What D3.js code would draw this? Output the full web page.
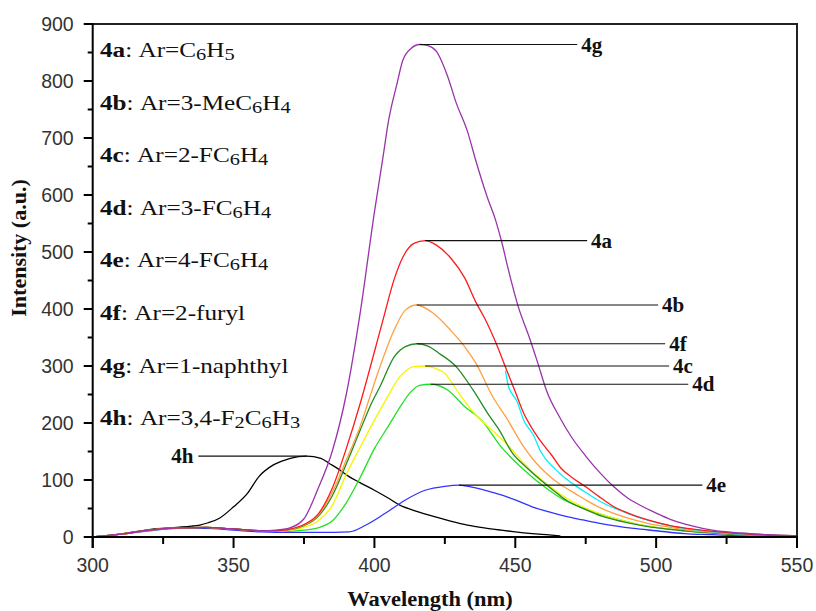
<!DOCTYPE html>
<html><head><meta charset="utf-8">
<script src="https://cdn.jsdelivr.net/npm/d3@7"></script>
<style>body{margin:0;background:#fff}svg{display:block}</style>
</head><body>
<svg id="c" width="816" height="611"></svg>
<script>
// ---- data ----
const xTicks = [300, 350, 400, 450, 500, 550];
const yTicks = [0, 100, 200, 300, 400, 500, 600, 700, 800, 900];

const wl4g = [300,310,320,330,340,350,360,365,370,375,380,385,390,395,400,403,405,408,410,413,416,419,422,426,429,433,436,440,443,445,448,451,455,458,461,466,470,475,480,485,490,495,500,505,510,515,520,530,540,550];
const in4g = [0,5,12,16,17,14,11,12,16,32,85,150,250,395,570,665,730,795,835,857,864,862,852,808,762,712,660,597,556,521,460,405,350,305,258,208,175,142,113,88,68,54,42,31,23,17,12,7,4,2];

const wl4a = [300,310,320,330,340,350,360,365,370,375,380,385,390,395,400,403,407,410,414,418,422,427,432,436,439,443,447,450,453,456,459,463,466,470,475,480,485,490,497,505,511,520,530,540,550];
const in4a = [0,5,12,16,17,14,11,11,14,22,40,85,155,235,325,380,452,490,515,520,512,490,455,412,385,342,292,255,217,190,168,143,122,105,88,70,53,42,30,20,15,10,6,3,2];

const wl4b = [300,310,320,330,340,350,360,365,370,375,380,385,390,395,398,402,407,411,415,421,427,432,436,442,447,453,457,461,466,471,476,482,490,497,505,510,520,530,540,550];
const in4b = [0,5,12,16,17,14,11,11,13,21,38,78,135,195,240,299,363,398,407,392,363,334,305,246,208,158,132,112,92,77,62,47,33,24,17,13,8,5,3,2];

const wl4f = [300,310,320,330,340,350,360,365,370,375,380,385,390,395,399,402,407,411,415,419,423,429,435,441,444,449,454,459,464,468,475,481,488,495,502,510,520,530,540,550];
const in4f = [0,5,12,16,17,14,11,11,13,20,36,72,128,188,235,264,316,334,339,335,322,299,258,211,190,147,122,100,80,65,48,36,27,20,15,11,7,4,3,2];

const wl4c = [300,310,320,330,340,350,360,365,370,375,380,385,390,395,400,404,409,414,418,421,425,430,436,443,448,452,456,461,467,473,479,485,492,500,508,515,525,535,550];
const in4c = [0,5,12,16,17,14,11,10,12,17,28,55,110,158,205,240,281,299,300,297,287,252,214,182,158,135,115,94,72,55,43,33,24,17,12,9,6,4,2];

const wl4d = [300,310,320,330,340,350,360,365,370,375,380,385,390,395,400,405,410,413,416,420,426,432,438,445,453,462,467,473,479,485,492,500,508,515,525,535,550];
const in4d = [0,5,12,16,17,14,11,10,10,12,16,28,60,105,155,195,235,255,266,268,258,229,205,158,118,82,66,53,42,33,24,17,12,9,6,4,2];

const wl4e = [300,310,320,330,340,350,360,370,380,391,397,404,411,418,425,430,435,440,445,450,456,462,468,474,480,486,492,500,510,520,530,540,550];
const in4e = [0,5,11,15,15,12,9,8,8,9,21,42,65,82,89,91,87,81,74,65,53,44,36,30,24,19,15,11,6,4,2,1,1];

const wl4h = [300,310,320,330,335,338,341,345,350,355,359,364,369,373,376,381,384,387,391,395,400,405,409,415,421,427,433,439,445,450,456,461,466];
const in4h = [0,5,13,17,19,21,25,33,53,77,106,126,136,141,142,138,129,120,106,95,82,68,56,45,36,28,21,16,12,9,6,4,2];

const wlCy = [446.5,447.6,450.6,453,456.5,459,464,468,472,476,481,487,494,502,510,520,530,540,550];
const inCy = [292,264,238,205,178,150,120,102,88,75,60,47,34,23,15,9,5,3,2];

const legendIds = ["4a","4b","4c","4d","4e","4f","4g","4h"];
const legendTexts = ["Ar=C_6H_5","Ar=3-MeC_6H_4","Ar=2-FC_6H_4","Ar=3-FC_6H_4","Ar=4-FC_6H_4","Ar=2-furyl","Ar=1-naphthyl","Ar=3,4-F_2C_6H_3"];

// annotation: label id and wavelength where the leader line ends
const annoIds = ["4g","4a","4b","4f","4c","4d","4e","4h"];
const annoEndWl = [472, 475.5, 500.7, 503.2, 504.6, 511.4, 516.4, 337.5];

// ---- layout ----
const svg = d3.select("#c");
const L = 92.7, R = 797, T = 24, B = 537;
const x = d3.scaleLinear().domain([300, 550]).range([L, R]);
const y = d3.scaleLinear().domain([0, 900]).range([B, T]);
const SERIF = "Liberation Serif, Times New Roman, serif";
const SANS = "Liberation Sans, Arial, sans-serif";

const series = [
  {id:"4h", wl:wl4h, v:in4h, c:"#000000"},
  {id:"4e", wl:wl4e, v:in4e, c:"#3333ff"},
  {id:"4d", wl:wl4d, v:in4d, c:"#22e022"},
  {id:"4c", wl:wl4c, v:in4c, c:"#f5f500"},
  {id:"4f", wl:wl4f, v:in4f, c:"#228b22"},
  {id:"4b", wl:wl4b, v:in4b, c:"#ffa040"},
  {id:"cy", wl:wlCy, v:inCy, c:"#00f0ff"},
  {id:"4a", wl:wl4a, v:in4a, c:"#ff1a1a"},
  {id:"4g", wl:wl4g, v:in4g, c:"#9933aa"}
];

svg.append("clipPath").attr("id","clip").append("rect")
  .attr("x", L).attr("y", T).attr("width", R-L).attr("height", B-T);

const line = d3.line().x(d => x(d[0])).y(d => y(d[1])).curve(d3.curveMonotoneX);
const gLines = svg.append("g").attr("clip-path","url(#clip)");
series.forEach(s => {
  gLines.append("path")
    .attr("d", line(s.wl.map((w,i)=>[w, s.v[i]])))
    .attr("fill","none").attr("stroke", s.c).attr("stroke-width", 1.3);
});

// frame
svg.append("line").attr("x1",L).attr("x2",R+1).attr("y1",T).attr("y2",T).attr("stroke","#222").attr("stroke-width",2);
svg.append("line").attr("x1",R).attr("x2",R).attr("y1",T).attr("y2",B).attr("stroke","#222").attr("stroke-width",2);

// axes
const ax = svg.append("g");
ax.append("line").attr("x1",L).attr("x2",R+1).attr("y1",B).attr("y2",B).attr("stroke","#000").attr("stroke-width",2);
ax.append("line").attr("x1",L).attr("x2",L).attr("y1",T-1).attr("y2",B+11).attr("stroke","#000").attr("stroke-width",2);

const xMinor = d3.range(325, 550, 50);
xTicks.forEach(t => {
  ax.append("line").attr("x1",x(t)).attr("x2",x(t)).attr("y1",B).attr("y2",B+11).attr("stroke","#000").attr("stroke-width",2);
  ax.append("text").attr("x",x(t)).attr("y",B+35).attr("text-anchor","middle")
    .attr("font-family",SANS).attr("font-size",19.5).attr("fill","#333").text(t);
});
xMinor.forEach(t => {
  ax.append("line").attr("x1",x(t)).attr("x2",x(t)).attr("y1",B).attr("y2",B+7).attr("stroke","#000").attr("stroke-width",2);
});
const yMinor = d3.range(50, 900, 100);
yTicks.forEach(t => {
  ax.append("line").attr("x1",L-9).attr("x2",L).attr("y1",y(t)).attr("y2",y(t)).attr("stroke","#000").attr("stroke-width",2);
  ax.append("text").attr("x",L-19).attr("y",y(t)+7).attr("text-anchor","end")
    .attr("font-family",SANS).attr("font-size",19.5).attr("fill","#333").text(t);
});
yMinor.forEach(t => {
  ax.append("line").attr("x1",L-5).attr("x2",L).attr("y1",y(t)).attr("y2",y(t)).attr("stroke","#000").attr("stroke-width",2);
});

// axis titles
svg.append("text").attr("transform","translate(430,606) scale(1.07,1)").attr("text-anchor","middle")
  .attr("font-family",SERIF).attr("font-weight","bold")
  .attr("font-size",21).attr("fill","#111").text("Wavelength (nm)");
svg.append("text").attr("transform","translate(26,248) rotate(-90) scale(1.1,1)").attr("text-anchor","middle")
  .attr("font-family",SERIF).attr("font-weight","bold")
  .attr("font-size",20).attr("fill","#111").text("Intensity (a.u.)");

// legend
const lg = svg.append("g").attr("font-family",SERIF).attr("font-size",21).attr("fill","#111");
legendIds.forEach((id, i) => {
  const t = lg.append("text").attr("transform", `translate(100,${57 + i*52.6}) scale(1.2,1)`);
  t.append("tspan").attr("font-weight","bold").text(id);
  t.append("tspan").text(": ");
  const parts = legendTexts[i].split(/(_\d)/).filter(p => p.length);
  let shifted = false;
  parts.forEach(p => {
    if (p[0] === "_") {
      t.append("tspan").attr("font-size",17).attr("dy", shifted ? 0 : 3).text(p.slice(1));
      shifted = true;
    } else {
      t.append("tspan").attr("dy", shifted ? -3 : 0).text(p);
      shifted = false;
    }
  });
});

// leader annotations
const an = svg.append("g");
annoIds.forEach((id, i) => {
  const s = series.find(d => d.id === id);
  const k = d3.maxIndex(s.v);
  const px = x(s.wl[k]), py = y(s.v[k]);
  const ex = x(annoEndWl[i]);
  an.append("line").attr("x1", px).attr("x2", ex).attr("y1", py).attr("y2", py)
    .attr("stroke","#111").attr("stroke-width",1.2);
  const left = ex < px;
  an.append("text").attr("x", left ? ex - 5 : ex + 4).attr("y", py + 7)
    .attr("text-anchor", left ? "end" : "start")
    .attr("font-family",SERIF).attr("font-weight","bold")
    .attr("font-size",21).attr("fill","#111").text(id);
});
</script>
</body></html>
